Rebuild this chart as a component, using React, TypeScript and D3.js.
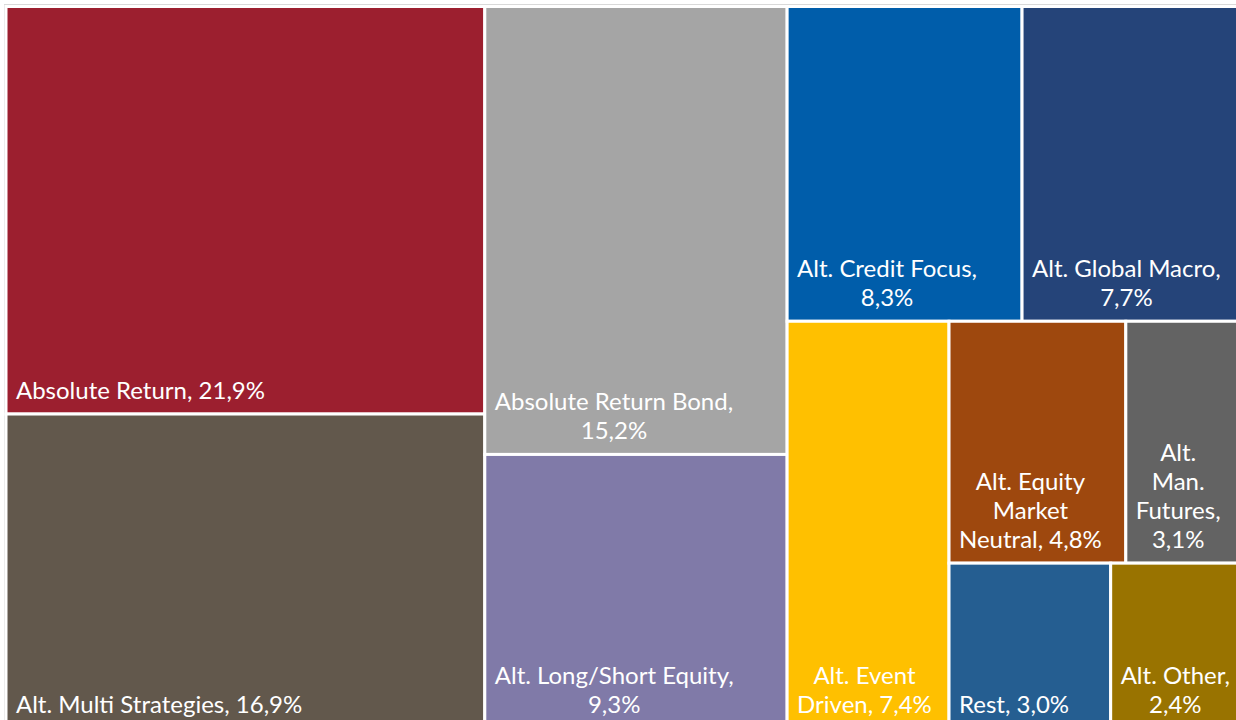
import React, { useMemo } from "react";
import * as d3 from "d3";

// ---- data ----
const categories = [
  "Absolute Return",
  "Alt. Multi Strategies",
  "Absolute Return Bond",
  "Alt. Long/Short Equity",
  "Alt. Credit Focus",
  "Alt. Global Macro",
  "Alt. Event Driven",
  "Alt. Equity\nMarket\nNeutral",
  "Alt.\nMan.\nFutures",
  "Rest",
  "Alt. Other",
];
const shares = [21.9, 16.9, 15.2, 9.3, 8.3, 7.7, 7.4, 4.8, 3.1, 3.0, 2.4];
const colors = [
  "#9C1F2F",
  "#62584C",
  "#A5A5A5",
  "#807AA8",
  "#005DAA",
  "#254479",
  "#FFC000",
  "#9E480E",
  "#636363",
  "#255E91",
  "#997300",
];
// how many items go in each successive strip of the treemap, and its orientation
const stripSizes = [2, 2, 2, 1, 2, 2];
const stripDirs = ["col", "col", "row", "col", "row", "row"];

const WIDTH = 1236;
const HEIGHT = 720;
const X0 = 6;
const Y0 = 6.5;
const X1 = 1240;
const Y1 = 728.5;
const FONT = "Lato";
const FONT_SIZE = 24;
const LINE_H = 29;

const locale = d3.formatLocale({ decimal: ",", thousands: ".", grouping: [3], currency: ["", "€"] });
const fmt = locale.format(".1f");

function stripTile(sizes: number[], dirs: string[]) {
  return (parent: any, x0: number, y0: number, x1: number, y1: number) => {
    const nodes = parent.children;
    let i = 0;
    let remaining = parent.value;
    sizes.forEach((k, s) => {
      const row = nodes.slice(i, i + k);
      i += k;
      const sum = d3.sum(row, (d: any) => d.value);
      const dx = x1 - x0;
      const dy = y1 - y0;
      const pseudo = { children: row, value: sum };
      if (dirs[s] === "col") {
        const w = (dx * sum) / remaining;
        d3.treemapSlice(pseudo as any, x0, y0, x0 + w, y1);
        x0 += w;
      } else {
        const h = (dy * sum) / remaining;
        d3.treemapDice(pseudo as any, x0, y0, x1, y0 + h);
        y0 += h;
      }
      remaining -= sum;
    });
  };
}

let ctx: CanvasRenderingContext2D | null = null;
function measure(s: string): number {
  if (!ctx) {
    ctx = document.createElement("canvas").getContext("2d");
  }
  ctx!.font = `${FONT_SIZE}px ${FONT}`;
  return ctx!.measureText(s).width;
}

function wrap(text: string, maxW: number): string[] {
  const out: string[] = [];
  text.split("\n").forEach((seg) => {
    const words = seg.split(" ");
    let line = "";
    words.forEach((w) => {
      const t = line ? line + " " + w : w;
      if (line && measure(t) > maxW) {
        out.push(line);
        line = w;
      } else line = t;
    });
    if (line) out.push(line);
  });
  return out;
}

export default function App() {
  const leaves = useMemo(() => {
    const root = d3
      .hierarchy({
        children: categories.map((c, i) => ({ name: c, value: shares[i], color: colors[i] })),
      } as any)
      .sum((d: any) => d.value || 0);
    d3.treemap().tile(stripTile(stripSizes, stripDirs) as any).size([X1 - X0, Y1 - Y0])(root as any);
    return root.leaves() as any[];
  }, []);

  return (
    <div style={{ position: "absolute", left: 0, top: 0 }}>
      <svg width={WIDTH} height={HEIGHT} style={{ display: "block", background: "#fff" }}>
        <rect x={4.5} y={4.5} width={WIDTH + 10} height={HEIGHT + 10} fill="none" stroke="#D9D9D9" />
        {leaves.map((n, i) => {
          const x0 = n.x0 + X0;
          const y0 = n.y0 + Y0;
          const w = n.x1 - n.x0;
          const h = n.y1 - n.y0;
          const label = `${n.data.name}, ${fmt(n.data.value)}%`;
          const lines = wrap(label, w - 14);
          const widths = lines.map(measure);
          const blockW = Math.max(...widths);
          const cx = x0 + 10 + blockW / 2;
          const lastY = y0 + h - 15.5;
          return (
            <g key={i}>
              <rect x={x0} y={y0} width={w} height={h} fill={n.data.color} stroke="#fff" strokeWidth={3} />
              <text fill="#fff" fontFamily={FONT} fontSize={FONT_SIZE} textAnchor="middle">
                {lines.map((l, j) => (
                  <tspan key={j} x={cx} y={lastY - (lines.length - 1 - j) * LINE_H}>
                    {l}
                  </tspan>
                ))}
              </text>
            </g>
          );
        })}
      </svg>
    </div>
  );
}
